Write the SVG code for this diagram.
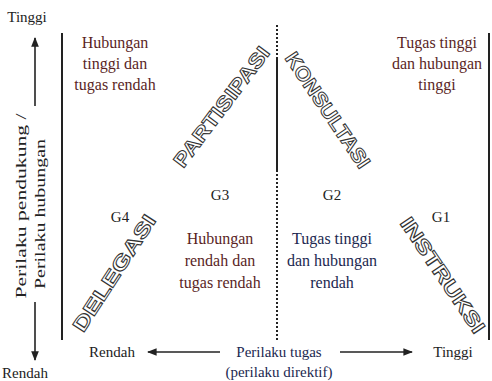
<svg xmlns="http://www.w3.org/2000/svg" width="492" height="381" viewBox="0 0 492 381">
<style>
.t{font-family:"Liberation Serif","Times New Roman",serif;font-size:15px;fill:#222;}
.q{font-size:16px;}
.r{fill:#5a1f1f;}
.b{fill:#1c2850;}
.g{font-family:"Liberation Serif",serif;font-size:15px;fill:#222;text-anchor:middle;}
.w{font-family:"Liberation Sans",Arial,sans-serif;font-weight:bold;font-size:20px;fill:#fff;stroke:#333;stroke-width:1;text-anchor:middle;}
.ln{stroke:#222;stroke-width:2;fill:none;}
.ar{stroke:#222;stroke-width:1.6;fill:none;}
</style>
<defs>
<marker id="ah" viewBox="0 0 10 10" refX="9" refY="5" markerWidth="6" markerHeight="6" orient="auto-start-reverse">
<path d="M0,1 L10,5 L0,9 z" fill="#222"/>
</marker>
</defs>
<rect width="492" height="381" fill="#fff"/>
<g id="connectors">
<line class="ln" x1="62" y1="33" x2="62" y2="340"/>
<line class="ln" x1="489" y1="33" x2="489" y2="340"/>
<line class="ln" x1="277" y1="25" x2="277" y2="57" stroke-dasharray="2,2"/>
<line class="ln" x1="277" y1="57" x2="277" y2="170"/>
<line class="ln" x1="277" y1="170" x2="277" y2="340" stroke-dasharray="2,2"/>
<line class="ar" x1="35" y1="106" x2="35" y2="38" marker-end="url(#ah)"/>
<line class="ar" x1="35" y1="302" x2="35" y2="360" marker-end="url(#ah)"/>
<line class="ar" x1="220" y1="352" x2="148" y2="352" marker-end="url(#ah)"/>
<line class="ar" x1="340" y1="352" x2="412" y2="352" marker-end="url(#ah)"/>
</g>
<g id="axis-y">
<text class="t" x="27" y="22" text-anchor="middle">Tinggi</text>
<text class="t" x="25" y="378" text-anchor="middle">Rendah</text>
<text class="t" transform="translate(26,206) rotate(-90)" text-anchor="middle" textLength="185" lengthAdjust="spacingAndGlyphs">Perilaku pendukung /</text>
<text class="t" transform="translate(45,214) rotate(-90)" text-anchor="middle" textLength="150" lengthAdjust="spacingAndGlyphs">Perilaku hubungan</text>
</g>
<g id="axis-x">
<text class="t" x="112" y="357" text-anchor="middle">Rendah</text>
<text class="t b" x="279" y="357" text-anchor="middle">Perilaku tugas</text>
<text class="t b" x="279" y="377" text-anchor="middle">(perilaku direktif)</text>
<text class="t" x="453" y="357" text-anchor="middle" fill="#2a5a5a">Tinggi</text>
</g>
<g id="q-tl">
<text class="t q r" x="115" y="48" text-anchor="middle">Hubungan</text>
<text class="t q r" x="115" y="69" text-anchor="middle">tinggi dan</text>
<text class="t q r" x="115" y="90" text-anchor="middle">tugas rendah</text>
</g>
<g id="q-tr">
<text class="t q r" x="437" y="48" text-anchor="middle">Tugas tinggi</text>
<text class="t q r" x="437" y="69" text-anchor="middle">dan hubungan</text>
<text class="t q r" x="437" y="90" text-anchor="middle">tinggi</text>
</g>
<g id="q-bl">
<text class="t q r" x="220" y="244" text-anchor="middle">Hubungan</text>
<text class="t q r" x="220" y="266" text-anchor="middle">rendah dan</text>
<text class="t q r" x="220" y="288" text-anchor="middle">tugas rendah</text>
</g>
<g id="q-br">
<text class="t q b" x="332" y="244" text-anchor="middle">Tugas tinggi</text>
<text class="t q b" x="332" y="266" text-anchor="middle">dan hubungan</text>
<text class="t q b" x="332" y="288" text-anchor="middle">rendah</text>
</g>
<g id="g4">
<text class="g" x="120" y="222">G4</text>
<text class="w" transform="translate(120,277) rotate(-57)" textLength="135" lengthAdjust="spacingAndGlyphs">DELEGASI</text>
</g>
<g id="g3">
<text class="g" x="220" y="200">G3</text>
<text class="w" transform="translate(227,111) rotate(-53)" textLength="145" lengthAdjust="spacingAndGlyphs">PARTISIPASI</text>
</g>
<g id="g2">
<text class="g" x="332" y="200">G2</text>
<text class="w" transform="translate(322,114) rotate(56)" textLength="135" lengthAdjust="spacingAndGlyphs">KONSULTASI</text>
</g>
<g id="g1">
<text class="g" x="441" y="222">G1</text>
<text class="w" transform="translate(437,279) rotate(56)" textLength="135" lengthAdjust="spacingAndGlyphs">INSTRUKSI</text>
</g>
</svg>
